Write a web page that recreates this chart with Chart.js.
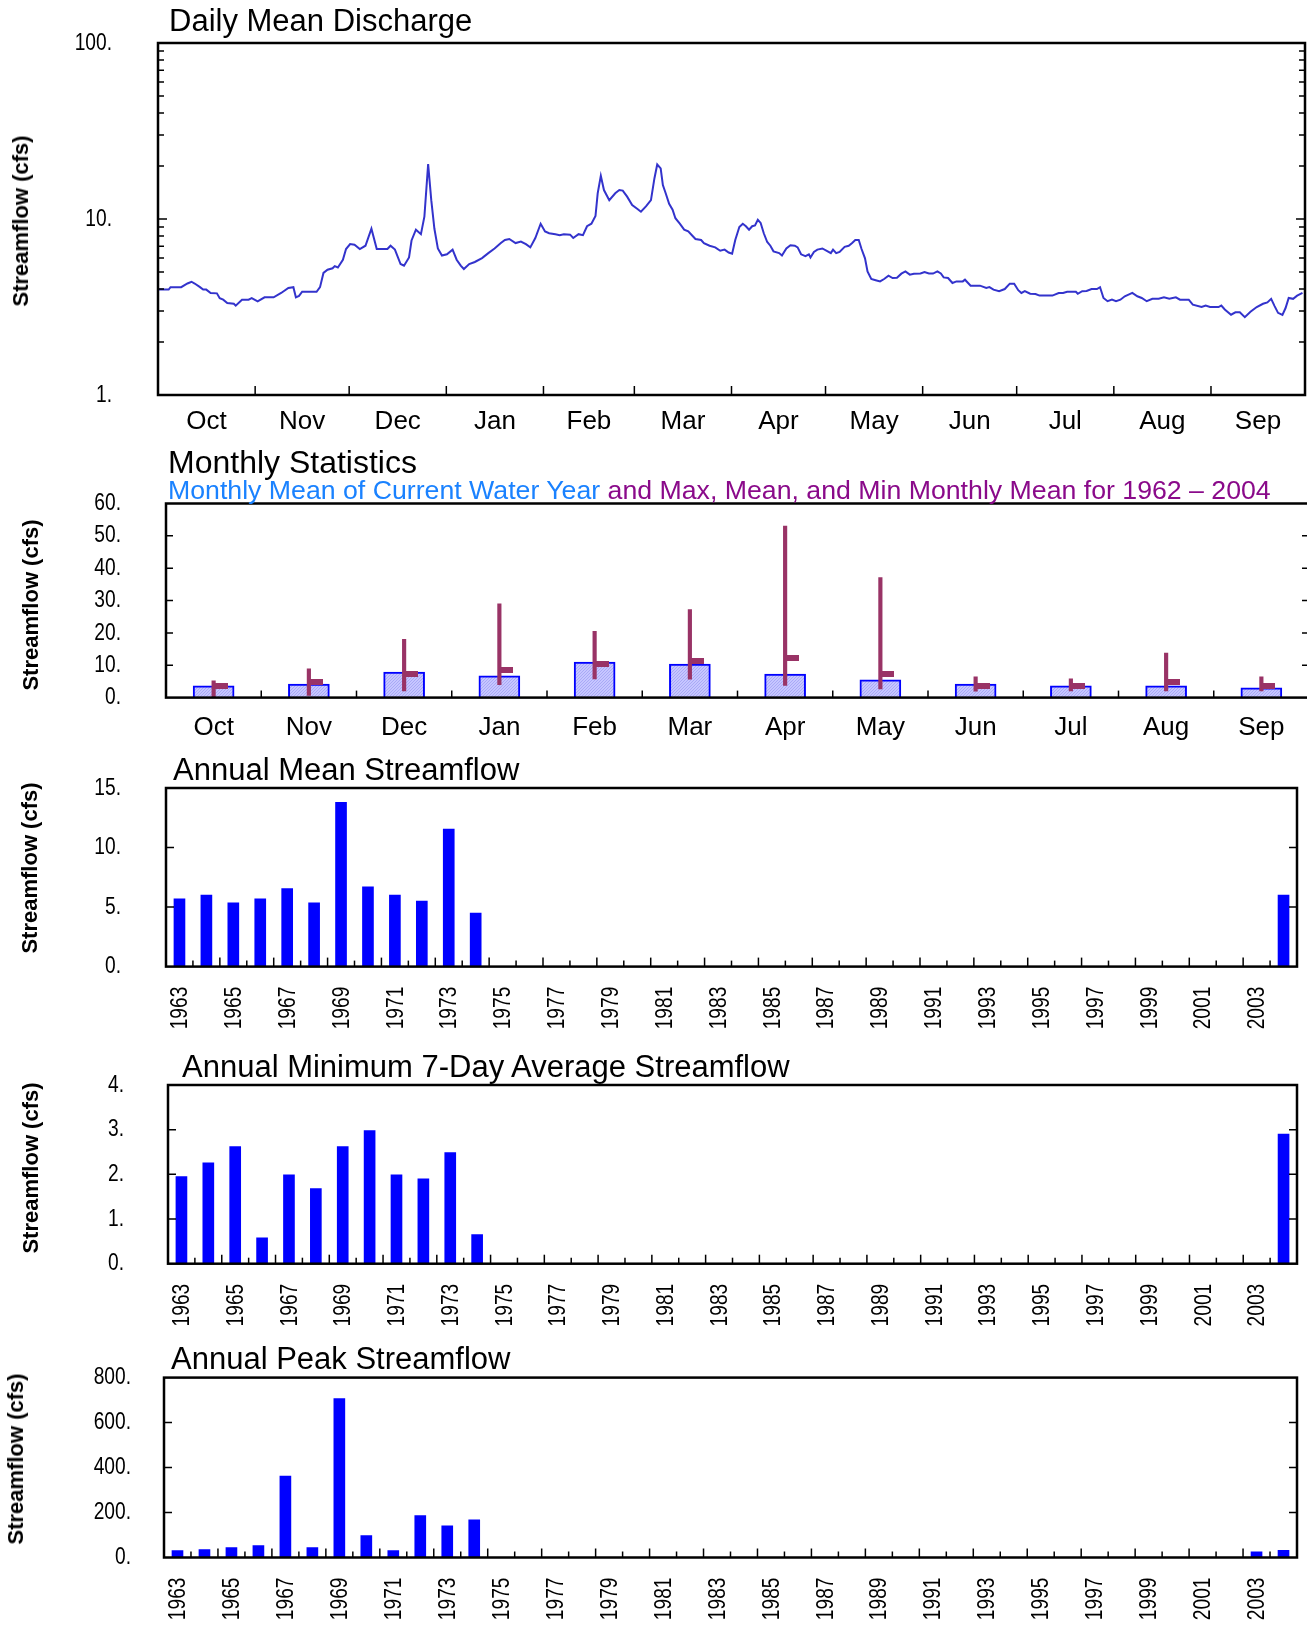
<!DOCTYPE html>
<html>
<head>
<meta charset="utf-8">
<script src="https://cdn.jsdelivr.net/npm/chart.js@4.4.1/dist/chart.umd.min.js"></script>
<style>
  body { margin: 0; width: 1307px; height: 1628px; overflow: hidden; background: #fff; position: relative; }
  canvas { position: absolute; left: 0; }
  .title { position: absolute; font-family: 'Liberation Sans', Arial, sans-serif; font-size: 31px; line-height: 1; white-space: nowrap; color: #000; z-index: 2; }
  .ylab { position: absolute; font-family: 'Liberation Sans', Arial, sans-serif; font-weight: bold; font-size: 22px; line-height: 1; white-space: nowrap; transform: translate(-50%, -50%) rotate(-90deg); z-index: 2; }
</style>
</head>
<body>
<canvas id="daily" width="1307" height="440" style="top:0"></canvas>
<canvas id="monthly" width="1320" height="300" style="top:440px"></canvas>
<canvas id="annualMean" width="1337" height="300" style="top:740px"></canvas>
<canvas id="annualMin" width="1337" height="300" style="top:1040px"></canvas>
<canvas id="annualPeak" width="1337" height="288" style="top:1340px"></canvas>

<div class="title" style="left:169px;top:5px">Daily Mean Discharge</div>
<div class="title" style="left:168px;top:446px;font-size:32px">Monthly Statistics</div>
<div class="title" style="left:168px;top:477px;font-size:26.7px"><span style="color:#1a82ff">Monthly Mean of Current Water Year</span><span style="color:#8a0a8a"> and Max, Mean, and Min Monthly Mean for 1962 – 2004</span></div>
<div class="title" style="left:173px;top:754px">Annual Mean Streamflow</div>
<div class="title" style="left:182px;top:1051px">Annual Minimum 7-Day Average Streamflow</div>
<div class="title" style="left:171px;top:1343px">Annual Peak Streamflow</div>

<div class="ylab" style="left:21px;top:221px">Streamflow (cfs)</div>
<div class="ylab" style="left:31px;top:605px">Streamflow (cfs)</div>
<div class="ylab" style="left:30px;top:868px">Streamflow (cfs)</div>
<div class="ylab" style="left:31px;top:1168px">Streamflow (cfs)</div>
<div class="ylab" style="left:16px;top:1459px">Streamflow (cfs)</div>

<script>
// daily mean discharge, water year 2004: [day since Oct 1, cfs]
const dischargeSeries = [
  [0,3.97],[3.4,3.97],[4,4.1],[7.4,4.1],[9.4,4.3],[10.7,4.4],[11.7,4.3],[13.4,4.1],[14.4,3.97],[15.4,3.97],
  [16.8,3.8],[18.8,3.78],[19.7,3.55],[20.8,3.48],[22.1,3.33],[24.2,3.3],[24.8,3.22],[26.8,3.48],[28.9,3.48],[29.9,3.55],
  [31.8,3.4],[34,3.59],[36.9,3.59],[39.3,3.8],[41.6,4.06],[43.2,4.1],[44,3.59],[45,3.66],[46,3.86],[50.6,3.86],
  [51.7,4.1],[52.8,4.94],[54.1,5.15],[55.7,5.25],[56.4,5.4],[57.4,5.3],[59,5.87],[60,6.75],[61.3,7.2],[62.7,7.15],
  [64.4,6.75],[66.2,7.05],[68.1,8.8],[69.8,6.75],[73.2,6.75],[74.2,7.05],[75.6,6.7],[77.4,5.55],[78.5,5.43],[80.1,6.05],
  [80.9,7.55],[82.3,8.7],[83.9,8.2],[85,10.3],[86.2,20.5],[87.2,12.8],[88.2,8.8],[89.3,6.8],[90.6,6.2],[92.2,6.3],
  [94,6.7],[95.3,5.87],[96.6,5.43],[97.6,5.2],[99.3,5.55],[101.1,5.7],[103.4,6.0],[105.4,6.4],[107.4,6.8],[109.4,7.3],
  [110.7,7.6],[112.1,7.7],[114.1,7.3],[115.8,7.45],[117.4,7.2],[118.8,6.9],[120.4,7.8],[122.1,9.4],[123.5,8.5],[124.8,8.3],
  [126.8,8.2],[128.2,8.1],[129.5,8.2],[131.5,8.15],[132.5,7.8],[134.2,8.2],[135.6,8.1],[136.9,9.1],[138.3,9.4],[139.6,10.4],
  [140.3,14.0],[141.3,17.6],[142.3,14.6],[144,12.8],[145.9,14.0],[147.2,14.6],[148.3,14.5],[149.7,13.4],[151.3,12.0],[153,11.4],
  [154.1,11.0],[155.7,11.8],[157.3,12.8],[158.4,17.0],[159.3,20.4],[160.4,19.4],[161.1,15.6],[162,14.0],[163.1,12.2],[164.2,11.3],
  [165.1,10.1],[166.5,9.4],[167.9,8.7],[169.2,8.5],[170.6,8.0],[171.5,7.7],[173.3,7.6],[174.2,7.3],[176,7.05],[177.8,6.9],
  [179.4,6.6],[180.8,6.7],[182.1,6.45],[183.2,6.35],[184.2,7.6],[185.5,9.0],[186.6,9.4],[187.6,9.1],[188.6,8.7],[189.6,9.1],
  [190.5,9.2],[191.4,9.9],[192.3,9.5],[193.3,8.3],[194.4,7.4],[195.4,7.05],[196.4,6.55],[198.2,6.4],[199.1,6.2],[200.5,6.8],
  [201.8,7.1],[203.2,7.05],[204.1,6.9],[205.2,6.3],[206.6,6.15],[207.7,6.3],[208.2,6.05],[209.3,6.5],[210.4,6.7],[212,6.8],
  [213.4,6.6],[214.7,6.4],[215.4,6.7],[216.4,6.4],[217.5,6.5],[219.1,6.95],[220.4,7.05],[221.5,7.3],[222.5,7.6],[223.6,7.6],
  [224.5,6.75],[225.6,5.98],[226.4,5.04],[227.6,4.56],[229,4.49],[230.4,4.42],[231.7,4.56],[233.1,4.76],[234.4,4.62],[235.8,4.64],
  [237.2,4.89],[238.5,5.04],[239.9,4.83],[241.2,4.89],[243.3,4.9],[244.6,5.0],[246,4.9],[247.3,4.9],[248.7,5.04],[249.8,4.9],
  [250.7,4.66],[252.1,4.62],[253.5,4.33],[254.8,4.42],[256.8,4.42],[257.5,4.52],[259.3,4.18],[262.3,4.18],[264.3,4.06],[265.3,4.1],
  [266.6,3.97],[268.4,3.89],[270.2,4.0],[271.8,4.29],[273.2,4.29],[274.5,3.94],[275.5,3.8],[276.6,3.89],[278.3,3.76],[280,3.75],
  [281.3,3.67],[285.4,3.67],[287.4,3.8],[288.8,3.8],[290.1,3.86],[292.9,3.86],[293.5,3.76],[294.9,3.89],[296.3,3.9],[297.9,4.0],
  [299.6,4.0],[300.6,4.1],[301.7,3.56],[303,3.41],[304.4,3.48],[305.7,3.41],[307.1,3.48],[308.5,3.64],[310.9,3.8],[312.5,3.64],
  [313.9,3.56],[315.5,3.41],[317.3,3.52],[319.3,3.52],[321,3.59],[322.7,3.52],[324.8,3.59],[326.1,3.48],[328.9,3.48],[330.2,3.26],
  [333,3.16],[334.3,3.22],[335.7,3.16],[338.4,3.16],[339.3,3.22],[340.4,3.06],[342.4,2.86],[343.8,2.95],[345.2,2.95],[346.8,2.77],
  [348.6,2.97],[350.6,3.16],[352.6,3.3],[354,3.36],[355.2,3.52],[356.3,3.2],[357.4,2.93],[358.8,2.85],[359.8,3.12],[360.8,3.56],
  [362.2,3.52],[363.5,3.67],[365.2,3.8]
];
const monthNames = ['Oct', 'Nov', 'Dec', 'Jan', 'Feb', 'Mar', 'Apr', 'May', 'Jun', 'Jul', 'Aug', 'Sep'];
const monthStartDays = [0, 31, 61, 92, 123, 152, 183, 213, 244, 274, 305, 336, 366];
const dailyTicks = [1, 2, 3, 4, 5, 6, 7, 8, 9, 10, 20, 30, 40, 50, 60, 70, 80, 90, 100];

// monthly statistics
const currentMonthMean = [3.6, 4.2, 7.9, 6.7, 11.0, 10.4, 7.3, 5.5, 4.2, 3.6, 3.6, 3.0];
const histMonthMax = [5.2, 8.9, 18.0, 29.0, 20.5, 27.2, 53.0, 37.1, 6.4, 5.8, 13.8, 6.4];
const histMonthMean = [3.6, 4.8, 7.2, 8.5, 10.3, 11.4, 12.2, 7.2, 3.5, 3.6, 4.7, 3.6];
const histMonthMin = [0.3, 0.7, 2.1, 4.0, 5.8, 5.7, 3.8, 2.7, 2.0, 2.1, 2.1, 2.1];

// annual series
const years = [1963, 1964, 1965, 1966, 1967, 1968, 1969, 1970, 1971, 1972, 1973, 1974, 1975, 1976,
  1977, 1978, 1979, 1980, 1981, 1982, 1983, 1984, 1985, 1986, 1987, 1988, 1989, 1990, 1991, 1992,
  1993, 1994, 1995, 1996, 1997, 1998, 1999, 2000, 2001, 2002, 2003, 2004];
const annualMean = [5.7, 6.0, 5.35, 5.7, 6.55, 5.35, 13.8, 6.7, 6.0, 5.5, 11.55, 4.5,
  null, null, null, null, null, null, null, null, null, null, null, null, null, null, null,
  null, null, null, null, null, null, null, null, null, null, null, null, null, null, 6.0];
const annualMin7Day = [1.95, 2.26, 2.62, 0.58, 1.99, 1.68, 2.62, 2.98, 1.99, 1.9, 2.49, 0.65,
  null, null, null, null, null, null, null, null, null, null, null, null, null, null, null,
  null, null, null, null, null, null, null, null, null, null, null, null, null, null, 2.9];
const annualPeak = [31, 35, 44, 53, 362, 44, 707, 97, 31, 186, 141, 168,
  null, null, null, null, null, null, null, null, null, null, null, null, null, null, null,
  null, null, null, null, null, null, null, null, null, null, null, null, null, 25, 32];

const SANS = "'Liberation Sans', Arial, sans-serif";
const maroon = '#993366';

Chart.defaults.font.family = SANS;
Chart.defaults.color = '#000';
Chart.defaults.animation = false;
Chart.defaults.plugins.legend.display = false;
Chart.defaults.plugins.tooltip.enabled = false;

// frame, inward tick marks and condensed number labels, all placed with the chart's own scales
const framePlugin = {
  id: 'frame',
  afterDatasetsDraw(chart, args, o) {
    const ctx = chart.ctx, a = chart.chartArea;
    const ys = chart.scales.y, xs = chart.scales.x;
    ctx.save();
    ctx.strokeStyle = '#000';
    ctx.lineWidth = 1.5;
    ys.ticks.forEach(t => {
      const len = o.yLen(t.value);
      if (!len) return;
      const p = ys.getPixelForValue(t.value);
      ctx.beginPath();
      ctx.moveTo(a.left, p); ctx.lineTo(a.left + len, p);
      ctx.moveTo(a.right, p); ctx.lineTo(a.right - len, p);
      ctx.stroke();
    });
    o.xMarks(xs).forEach(m => {
      ctx.beginPath();
      ctx.moveTo(m[0], a.bottom); ctx.lineTo(m[0], a.bottom - m[1]);
      ctx.stroke();
    });
    ctx.lineWidth = 2.5;
    ctx.strokeRect(a.left, a.top, a.right - a.left, a.bottom - a.top);

    // numbers in a narrow face, like the original plot
    ctx.fillStyle = '#000';
    ctx.font = '24px ' + SANS;
    ctx.textAlign = 'right';
    ctx.textBaseline = 'middle';
    ys.ticks.forEach(t => {
      const s = o.yText(t.value);
      if (!s) return;
      ctx.save();
      ctx.translate(a.left - o.yGap, ys.getPixelForValue(t.value));
      ctx.scale(0.8, 1);
      ctx.fillText(s, 0, 0);
      ctx.restore();
    });
    if (o.xText) {
      xs.ticks.forEach((t, i) => {
        const s = o.xText(i);
        if (!s) return;
        ctx.save();
        ctx.translate(xs.getPixelForValue(i), a.bottom + o.xGap);
        ctx.rotate(-Math.PI / 2);
        ctx.scale(0.8, 1);
        ctx.fillText(s, 0, 1);
        ctx.restore();
      });
    }
    ctx.restore();
  }
};
Chart.register(framePlugin);

function categoryBounds(xs, n, lenFn) {
  const marks = [];
  for (let i = 0; i < n - 1; i++) {
    marks.push([(xs.getPixelForValue(i) + xs.getPixelForValue(i + 1)) / 2, lenFn(i)]);
  }
  return marks;
}

// gap between axis and labels is given as an invisible tick length, so it does not inflate layout padding
function hiddenGrid(gap) {
  return { display: false, drawTicks: true, tickLength: gap, color: 'rgba(0,0,0,0)' };
}

function yAxis(min, max, step, plotLeft) {
  return {
    min: min, max: max,
    grid: hiddenGrid(0),
    border: { display: false },
    ticks: { stepSize: step, display: false },
    afterFit: s => { s.width = plotLeft; }
  };
}

// ---- daily mean discharge
const monthMids = monthNames.map((m, i) => (monthStartDays[i] + monthStartDays[i + 1]) / 2);
new Chart(document.getElementById('daily'), {
  type: 'line',
  data: {
    datasets: [{
      data: dischargeSeries.map(p => ({ x: p[0], y: p[1] })),
      borderColor: '#3333cc', borderWidth: 2, pointRadius: 0, tension: 0
    }]
  },
  options: {
    responsive: false,
    layout: { padding: { top: 43, right: 2, left: 0, bottom: 0 } },
    scales: {
      x: {
        type: 'linear', min: 0, max: 366,
        grid: hiddenGrid(11),
        border: { display: false },
        afterBuildTicks: s => { s.ticks = monthMids.map(v => ({ value: v })); },
        ticks: { padding: 0, autoSkip: false, maxRotation: 0, font: { size: 26 }, callback: (v, i) => monthNames[i] },
        afterFit: s => { s.height = 440 - 395; }
      },
      y: {
        type: 'logarithmic', min: 1, max: 100,
        grid: hiddenGrid(0),
        border: { display: false },
        afterBuildTicks: s => { s.ticks = dailyTicks.map(v => ({ value: v })); },
        ticks: { display: false },
        afterFit: s => { s.width = 158; }
      }
    },
    plugins: {
      frame: {
        yLen: v => (v === 1 || v === 100) ? 0 : (v === 10 ? 9 : 6),
        yGap: 46,
        yText: v => (v === 1 || v === 10 || v === 100) ? v + '.' : '',
        xMarks: xs => monthStartDays.slice(1, 12).map(d => [xs.getPixelForValue(d), 9])
      }
    }
  }
});

// ---- monthly statistics
const mctx = document.getElementById('monthly').getContext('2d');
const dotCanvas = document.createElement('canvas');
dotCanvas.width = 3; dotCanvas.height = 3;
const dg = dotCanvas.getContext('2d');
dg.fillStyle = '#c6c6ff'; dg.fillRect(0, 0, 3, 3);
dg.fillStyle = '#a9a9f6'; dg.fillRect(0, 0, 1, 1); dg.fillRect(2, 1, 1, 1); dg.fillRect(1, 2, 1, 1);
const dotFill = mctx.createPattern(dotCanvas, 'repeat');

const meanStub = document.createElement('canvas');
meanStub.width = 28; meanStub.height = 6;
const sg = meanStub.getContext('2d');
sg.fillStyle = maroon; sg.fillRect(14, 0, 14, 6);

new Chart(mctx, {
  type: 'bar',
  data: {
    labels: monthNames,
    datasets: [
      { type: 'line', data: histMonthMean, showLine: false, pointStyle: meanStub, pointRadius: 4, order: 0 },
      { data: histMonthMin.map((v, i) => [v, histMonthMax[i]]), backgroundColor: maroon, barThickness: 3.5, grouped: false, order: 1 },
      { data: currentMonthMean, backgroundColor: dotFill, borderColor: '#0000ff', borderWidth: 2, barThickness: 41, grouped: false, order: 2 }
    ]
  },
  options: {
    responsive: false,
    layout: { padding: { top: 63.5, right: 11, left: 0, bottom: 0 } },
    scales: {
      x: {
        grid: hiddenGrid(15),
        border: { display: false },
        ticks: { padding: 0, font: { size: 26 } },
        afterFit: s => { s.height = 300 - 257.6; }
      },
      y: yAxis(0, 60, 10, 166)
    },
    plugins: {
      frame: {
        yLen: v => (v === 0 || v === 60) ? 0 : 7,
        yGap: 45,
        yText: v => v + '.',
        xMarks: xs => categoryBounds(xs, monthNames.length, () => 7)
      }
    }
  }
});

// ---- annual bar panels
function annualChart(id, values, yMin, yMax, step, plotLeft, gap, padTop, xHeight) {
  new Chart(document.getElementById(id), {
    type: 'bar',
    data: {
      labels: years,
      datasets: [{ data: values, backgroundColor: '#0000ff', barThickness: 11 }]
    },
    options: {
      responsive: false,
      layout: { padding: { top: padTop, right: 40, left: 0, bottom: 0 } },
      scales: {
        x: {
          grid: hiddenGrid(0),
          border: { display: false },
          ticks: { autoSkip: false, display: false },
          afterFit: s => { s.height = xHeight; }
        },
        y: yAxis(yMin, yMax, step, plotLeft)
      },
      plugins: {
        frame: {
          yLen: v => (v === yMin || v === yMax) ? 0 : 8,
          yGap: gap,
          yText: v => v + '.',
          xGap: 20,
          xText: i => years[i] % 2 ? String(years[i]) : '',
          xMarks: xs => categoryBounds(xs, years.length, i => i % 2 ? 9 : 6)
        }
      }
    }
  });
}

annualChart('annualMean', annualMean, 0, 15, 5, 166, 45, 48, 300 - 226.6);
annualChart('annualMin', annualMin7Day, 0, 4, 1, 168, 44, 45, 300 - 223.7);
annualChart('annualPeak', annualPeak, 0, 800, 200, 164, 33, 37.6, 288 - 217.5);
</script>
</body>
</html>
